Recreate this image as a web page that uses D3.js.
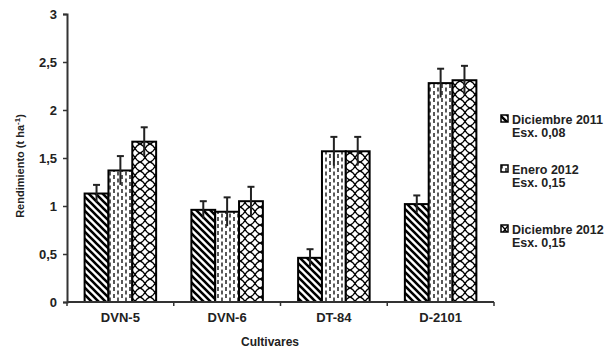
<!DOCTYPE html>
<html>
<head>
<meta charset="utf-8">
<script src="https://cdn.jsdelivr.net/npm/d3@7"></script>
<style>
  body { margin: 0; background: #fff; }
  text { font-family: "Liberation Sans", Arial, sans-serif; }
</style>
</head>
<body>
<svg id="chart" width="611" height="356"></svg>
<script>
// datos
let cultivares = ['DVN-5', 'DVN-6', 'DT-84', 'D-2101'];
let series = ['Diciembre 2011', 'Enero 2012', 'Diciembre 2012'];
let seriesSub = ['Esx. 0,08', 'Esx. 0,15', 'Esx. 0,15'];
let dic2011 = [1.13, 0.96, 0.46, 1.02];
let ene2012 = [1.37, 0.94, 1.57, 2.28];
let dic2012 = [1.67, 1.05, 1.57, 2.31];
let errores = [0.09, 0.15, 0.15];
let yTicks = [0, 0.5, 1, 1.5, 2, 2.5, 3];

let valores = [dic2011, ene2012, dic2012];

let svg = d3.select('#chart');
let margin = {left: 67, top: 14, right: 117, bottom: 54};
let width = 611, height = 356;

// patrones
let defs = svg.append('defs');
let p1 = defs.append('pattern')
    .attr('id', 'pat0')
    .attr('patternUnits', 'userSpaceOnUse')
    .attr('width', 7).attr('height', 7);
p1.append('rect').attr('width', 7).attr('height', 7).attr('fill', '#fff');
p1.append('path')
    .attr('d', 'M-2,-2 L9,9 M-2,5 L2,9 M5,-2 L9,2')
    .attr('stroke', '#000').attr('stroke-width', 2.6);

let p2 = defs.append('pattern')
    .attr('id', 'pat1')
    .attr('patternUnits', 'userSpaceOnUse')
    .attr('width', 8).attr('height', 7);
p2.append('rect').attr('width', 8).attr('height', 7).attr('fill', '#fff');
p2.append('path')
    .attr('d', 'M2,0 L2,4 M6,3.5 L6,7.5 M6,-3.5 L6,0.5')
    .attr('stroke', '#000').attr('stroke-width', 1.3);

let p3 = defs.append('pattern')
    .attr('id', 'pat2')
    .attr('patternUnits', 'userSpaceOnUse')
    .attr('width', 10).attr('height', 9);
p3.append('rect').attr('width', 10).attr('height', 9).attr('fill', '#fff');
p3.append('path')
    .attr('d', 'M0,0 Q3,1 5,4.5 Q7,8 10,9 M0,9 Q3,8 5,4.5 Q7,1 10,0')
    .attr('fill', 'none')
    .attr('stroke', '#000').attr('stroke-width', 1.4);

// escalas
let x0 = d3.scaleBand()
    .domain(cultivares)
    .range([margin.left, width - margin.right])
    .paddingInner(0.33)
    .paddingOuter(0.165);
let x1 = d3.scaleBand()
    .domain(d3.range(series.length))
    .range([0, x0.bandwidth()]);
let y = d3.scaleLinear()
    .domain([0, 3])
    .range([302, margin.top]);

// barras
for (let s = 0; s < series.length; s++) {
    svg.append('g').selectAll('rect')
        .data(valores[s])
        .enter()
        .append('rect')
        .attr('x', (d, i) => x0(cultivares[i]) + x1(s))
        .attr('y', d => y(d))
        .attr('width', x1.bandwidth())
        .attr('height', d => y(0) - y(d))
        .attr('fill', 'url(#pat' + s + ')')
        .attr('stroke', '#000')
        .attr('stroke-width', 2);
}

// barras de error
for (let s = 0; s < series.length; s++) {
    let g = svg.append('g');
    valores[s].forEach(function (d, i) {
        let cx = x0(cultivares[i]) + x1(s) + x1.bandwidth() / 2;
        g.append('line')
            .attr('x1', cx).attr('x2', cx)
            .attr('y1', y(d - errores[s])).attr('y2', y(d + errores[s]))
            .attr('stroke', '#222').attr('stroke-width', 2);
        g.append('line')
            .attr('x1', cx - 3.5).attr('x2', cx + 3.5)
            .attr('y1', y(d + errores[s])).attr('y2', y(d + errores[s]))
            .attr('stroke', '#222').attr('stroke-width', 2);
    });
}

// eje y
let yAxis = svg.append('g')
    .attr('transform', 'translate(' + margin.left + ',0)')
    .call(d3.axisLeft(y).tickValues(yTicks)
        .tickSize(4)
        .tickFormat(d => String(d).replace('.', ',')));
yAxis.select('.domain').attr('stroke', '#333').attr('stroke-width', 2);
yAxis.selectAll('.tick line').attr('stroke', '#333').attr('stroke-width', 1.5);
yAxis.selectAll('.tick text')
    .attr('x', -10)
    .style('font-family', '"Liberation Sans", Arial, sans-serif')
    .style('font-size', '13px')
    .style('font-weight', 'bold')
    .attr('fill', '#222');

// eje x
let xAxis = svg.append('g')
    .attr('transform', 'translate(0,' + y(0) + ')');
xAxis.append('line')
    .attr('x1', margin.left).attr('x2', width - margin.right)
    .attr('stroke', '#333').attr('stroke-width', 2);
let step = (width - margin.right - margin.left) / cultivares.length;
xAxis.selectAll('.tk')
    .data(d3.range(cultivares.length + 1))
    .enter()
    .append('line')
    .attr('x1', d => margin.left + d * step)
    .attr('x2', d => margin.left + d * step)
    .attr('y1', 0).attr('y2', 4)
    .attr('stroke', '#333').attr('stroke-width', 1.5);
xAxis.selectAll('.lbl')
    .data(cultivares)
    .enter()
    .append('text')
    .attr('x', d => x0(d) + x0.bandwidth() / 2)
    .attr('y', 20)
    .attr('text-anchor', 'middle')
    .style('font-size', '13px')
    .style('font-weight', 'bold')
    .attr('fill', '#222')
    .text(d => d);

// títulos
svg.append('text')
    .attr('x', 270).attr('y', 346)
    .attr('text-anchor', 'middle')
    .style('font-size', '12px')
    .style('font-weight', 'bold')
    .attr('fill', '#222')
    .text('Cultivares');

let yt = svg.append('text')
    .attr('transform', 'translate(24,166) rotate(-90)')
    .attr('text-anchor', 'middle')
    .style('font-size', '11px')
    .style('font-weight', 'bold')
    .attr('fill', '#222');
yt.append('tspan').text('Rendimiento (t ha');
yt.append('tspan').attr('dy', -4).style('font-size', '8px').text('-1');
yt.append('tspan').attr('dy', 4).text(')');

// leyenda
let legendY = [119, 169, 229];
let legend = svg.append('g');
series.forEach(function (s, i) {
    legend.append('rect')
        .attr('x', 501).attr('y', legendY[i] - 4)
        .attr('width', 7).attr('height', 7)
        .attr('fill', 'url(#pat' + i + ')')
        .attr('stroke', '#000').attr('stroke-width', 1.5);
    legend.append('text')
        .attr('x', 512).attr('y', legendY[i] + 4.5)
        .style('font-size', '12.5px')
        .style('font-weight', 'bold')
        .attr('fill', '#222')
        .text(s);
    legend.append('text')
        .attr('x', 512).attr('y', legendY[i] + 18)
        .style('font-size', '12.5px')
        .style('font-weight', 'bold')
        .attr('fill', '#222')
        .text(seriesSub[i]);
});
</script>
</body>
</html>
